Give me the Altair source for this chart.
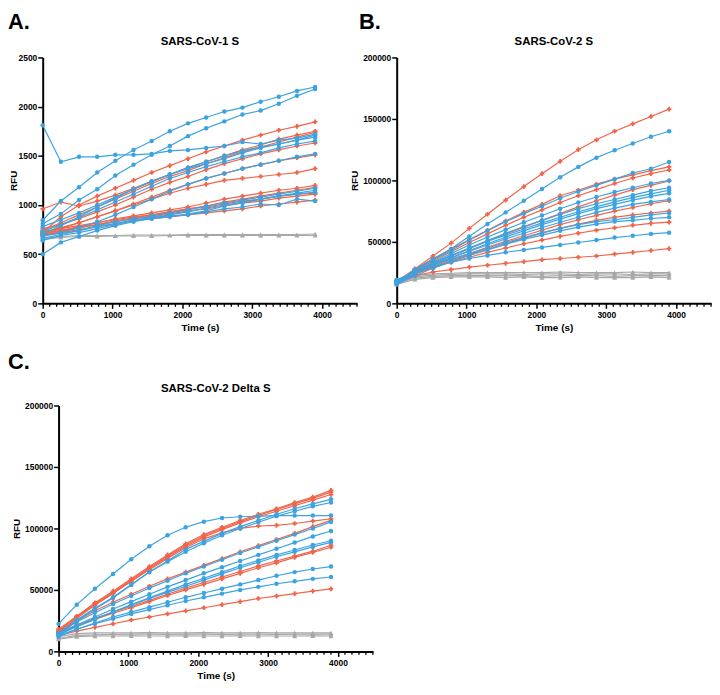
import altair as alt
import pandas as pd

# ---------------- data ----------------
T = [0, 260, 520, 780, 1040, 1300, 1560, 1820, 2080, 2340, 2600, 2860, 3120, 3380, 3640, 3900]

# Panel A: SARS-CoV-1 S
A_blue = [
    [845, 1040, 1180, 1330, 1450, 1560, 1650, 1750, 1830, 1890, 1950, 1990, 2050, 2100, 2160, 2200],
    [810, 910, 1050, 1160, 1300, 1410, 1510, 1600, 1700, 1780, 1850, 1920, 1960, 2030, 2110, 2180],
    [1810, 1440, 1490, 1490, 1510, 1510, 1520, 1550, 1560, 1580, 1600, 1640, 1620, 1660, 1680, 1720],
    [700, 790, 880, 980, 1070, 1160, 1240, 1310, 1370, 1420, 1470, 1530, 1580, 1620, 1660, 1710],
    [730, 800, 870, 950, 1030, 1110, 1190, 1270, 1330, 1390, 1440, 1490, 1530, 1580, 1620, 1650],
    [680, 720, 770, 830, 900, 980, 1060, 1140, 1210, 1270, 1320, 1370, 1410, 1450, 1490, 1520],
    [660, 700, 740, 790, 830, 860, 890, 920, 950, 990, 1020, 1050, 1080, 1110, 1140, 1170],
    [640, 690, 720, 760, 800, 840, 870, 900, 930, 970, 1000, 1030, 1060, 1090, 1120, 1150],
    [690, 710, 740, 780, 810, 850, 870, 890, 900, 930, 960, 980, 1010, 1000, 1060, 1040],
    [500, 620, 680, 740, 790, 830, 860, 880, 910, 940, 990, 1020, 1060, 1090, 1110, 1130],
    [780, 850, 920, 1000, 1080, 1160, 1240, 1310, 1380, 1440, 1500, 1550, 1590, 1620, 1660, 1690],
]
A_red = [
    [720, 880, 1000, 1090, 1170, 1250, 1330, 1400, 1470, 1540, 1600, 1660, 1710, 1760, 1800, 1845],
    [960, 1030, 990, 1040, 1100, 1170, 1240, 1310, 1380, 1440, 1500, 1560, 1610, 1670, 1710, 1750],
    [740, 820, 900, 980, 1060, 1140, 1220, 1290, 1350, 1420, 1480, 1540, 1590, 1640, 1690, 1740],
    [760, 800, 860, 930, 1000, 1080, 1160, 1230, 1290, 1360, 1420, 1470, 1520, 1560, 1600, 1630],
    [700, 760, 820, 880, 940, 1010, 1080, 1150, 1210, 1270, 1320, 1370, 1410, 1450, 1480, 1510],
    [720, 770, 820, 880, 940, 1000, 1060, 1120, 1170, 1210, 1250, 1270, 1290, 1310, 1330, 1370],
    [710, 740, 780, 820, 860, 890, 920, 950, 980, 1020, 1060, 1090, 1120, 1150, 1170, 1200],
    [690, 730, 770, 800, 840, 870, 900, 930, 960, 990, 1030, 1060, 1090, 1120, 1150, 1180],
    [730, 760, 790, 820, 850, 880, 900, 930, 960, 980, 1010, 1040, 1060, 1090, 1110, 1120],
    [700, 740, 770, 800, 830, 860, 880, 910, 940, 960, 990, 1020, 1040, 1070, 1090, 1110],
    [690, 720, 750, 780, 810, 840, 860, 880, 900, 920, 940, 960, 990, 1010, 1030, 1050],
]
A_gray = [
    [660, 680, 690, 690, 690, 695, 695, 695, 700, 700, 700, 700, 700, 700, 700, 705],
    [650, 670, 680, 680, 685, 685, 685, 690, 690, 690, 690, 690, 690, 690, 690, 690],
]

# Panel B: SARS-CoV-2 S
B_blue = [
    [16500, 27500, 36000, 44500, 54500, 64500, 74000, 83500, 93000, 102500, 111000, 118500, 124500, 130000, 135500, 140000],
    [17000, 27000, 35500, 43000, 51500, 59000, 66500, 73000, 79000, 85500, 91000, 96000, 101000, 106000, 109500, 115000],
    [16500, 25500, 33500, 40500, 47500, 54000, 60000, 66000, 71500, 77000, 82000, 86500, 90500, 94000, 97500, 100000],
    [17000, 25000, 32000, 38500, 45000, 51000, 57000, 62500, 67500, 72500, 77000, 81000, 84500, 88000, 91500, 94000],
    [18000, 26000, 33000, 39000, 45000, 50500, 55500, 60500, 65500, 70000, 74500, 78500, 82500, 86000, 89000, 92000],
    [16000, 24000, 31000, 37000, 43000, 48500, 54000, 59000, 64000, 68500, 73000, 77000, 80500, 84000, 87000, 89500],
    [17500, 25000, 31500, 37000, 42500, 47500, 52500, 57000, 61500, 66000, 70000, 74000, 77500, 80500, 82500, 84500],
    [19000, 25500, 31000, 36000, 40500, 45000, 49500, 53500, 57500, 61000, 64000, 66500, 68000, 70000, 72000, 73500],
    [15500, 22500, 28500, 34000, 39000, 43500, 48000, 52000, 55500, 59000, 62000, 64500, 66500, 67500, 69000, 70000],
    [19000, 25500, 30000, 33500, 36500, 39000, 41500, 43500, 45500, 47500, 49500, 51500, 53500, 55000, 56500, 57500],
]
B_red = [
    [17400, 28000, 38500, 49000, 61000, 72500, 84000, 95000, 105500, 115500, 125000, 133000, 140000, 146000, 152000, 158000],
    [18000, 27500, 36000, 44000, 52000, 59500, 67000, 74000, 80500, 87500, 92000, 97000, 101000, 104500, 108000, 111000],
    [17500, 26500, 34500, 42000, 49500, 56500, 63500, 70000, 76000, 82000, 87500, 92500, 97500, 102000, 105500, 108500],
    [18500, 26000, 32500, 38500, 44500, 50500, 56500, 62000, 67500, 73000, 78500, 83500, 88000, 92500, 96000, 99500],
    [18000, 24500, 30000, 35500, 40500, 45500, 50500, 55000, 59500, 64000, 68000, 71500, 75000, 78000, 81000, 83500],
    [17500, 24000, 29500, 34500, 39500, 44000, 48500, 53000, 57000, 61000, 64500, 67500, 70000, 72000, 73500, 75000],
    [18500, 24000, 29000, 33500, 37500, 41500, 45000, 48500, 51500, 54500, 57000, 59500, 61500, 63500, 65000, 66000],
    [17500, 22500, 25500, 27500, 29500, 31000, 32500, 34000, 35500, 36500, 37500, 38500, 40000, 41500, 43000, 44500],
]
B_gray = [
    [17000, 22500, 24000, 24500, 25000, 25000, 25000, 25000, 25000, 25500, 25000, 25000, 25000, 25500, 25000, 25000],
    [16000, 21500, 23000, 23500, 24000, 24000, 24000, 23500, 24000, 24000, 23500, 24000, 24000, 23500, 24000, 24000],
    [16500, 20500, 22000, 22500, 22500, 22500, 22500, 22500, 22000, 22500, 22500, 22500, 22000, 22500, 22500, 22500],
    [15500, 19500, 21000, 21500, 21500, 21500, 21000, 21500, 21000, 21000, 21500, 21000, 21000, 21000, 21500, 21000],
]

# Panel C: SARS-CoV-2 Delta S
C_blue = [
    [22400, 38000, 51000, 63000, 75000, 85500, 94500, 101000, 105500, 108500, 109500, 110000, 110500, 110500, 110500, 110500],
    [13500, 25000, 34500, 43500, 54000, 64500, 73500, 83000, 89500, 96000, 101500, 106500, 111500, 116000, 120000, 123700],
    [14500, 25500, 35000, 44000, 54500, 64500, 73000, 81000, 88000, 94500, 100000, 105000, 110000, 114000, 118000, 121100],
    [15000, 24000, 31500, 38500, 45000, 51500, 57500, 63500, 69000, 74500, 80000, 85000, 90000, 95000, 100000, 105300],
    [14000, 21500, 28000, 34500, 40500, 46500, 52500, 58000, 63500, 68500, 73500, 78500, 83500, 88500, 93500, 97900],
    [13500, 20000, 26000, 32000, 38000, 43500, 49000, 54500, 59500, 64500, 69500, 74000, 78500, 82500, 86500, 90000],
    [14500, 20500, 26500, 32000, 37500, 43000, 48000, 53000, 58000, 63000, 68000, 72500, 77000, 81000, 85000, 88700],
    [12000, 18000, 23000, 28000, 32000, 36000, 40000, 44000, 47500, 51000, 54500, 58000, 61500, 64500, 67000, 69000],
    [13000, 18000, 22500, 26500, 30500, 34000, 37500, 41000, 44000, 47000, 50000, 52500, 55000, 57000, 59000, 60500],
]
C_red = [
    [16000, 28500, 39500, 49000, 59000, 69000, 78500, 87500, 95000, 101000, 106500, 111500, 116000, 121000, 125500, 131000],
    [17000, 28000, 38500, 48000, 58000, 68000, 77500, 86500, 94000, 100000, 105500, 110500, 115500, 120000, 124500, 129500],
    [15000, 27000, 37500, 47000, 57000, 67000, 76500, 85500, 93000, 99000, 104500, 109500, 114000, 118500, 123000, 127600],
    [18000, 28500, 38500, 47500, 57000, 66500, 75500, 84500, 91500, 96500, 100000, 102000, 102500, 104000, 106000, 107900],
    [16000, 25000, 33000, 40000, 46500, 53000, 59000, 64500, 70000, 75500, 81000, 86000, 91000, 96000, 101500, 106600],
    [15500, 21500, 27000, 32000, 36500, 41500, 46500, 51500, 56000, 60500, 65000, 69500, 73500, 77500, 81500, 86300],
    [14500, 20500, 26000, 31000, 35500, 40500, 45500, 50000, 54500, 59000, 63500, 68000, 72000, 76500, 80500, 84700],
    [13200, 16500, 19500, 22500, 25500, 28000, 30500, 33000, 35500, 38000, 40500, 43000, 45000, 47000, 49000, 50800],
]
C_gray = [
    [12000, 14500, 15000, 15000, 15000, 15200, 15000, 15000, 15200, 15000, 15000, 15200, 15000, 15000, 15000, 15000],
    [10500, 13000, 13500, 13800, 14000, 14000, 13800, 14000, 14000, 13800, 14000, 14000, 13800, 14000, 14000, 14000],
    [10000, 12000, 12500, 12500, 12700, 12500, 12500, 12700, 12500, 12500, 12700, 12500, 12500, 12500, 12700, 12500],
]

X_TICKS = [0, 1000, 2000, 3000, 4000]
X_MINOR = [t for t in range(100, 4501, 100) if t % 1000 != 0]
A_YTICKS = [0, 500, 1000, 1500, 2000, 2500]
BC_YTICKS = [0, 50000, 100000, 150000, 200000]

# ---------------- style ----------------
FONT = "Liberation Sans"
BLUE, RED, GRAY = "#3BA3E1", "#F0654A", "#A8A8A8"
W, H = 317, 248
OFF_C = 16


def build_df(blue, red, gray):
    rows = []
    for grp, series in (("gray", gray), ("red", red), ("blue", blue)):
        for k, vals in enumerate(series):
            for t, v in zip(T, vals):
                rows.append({"t": t, "v": v, "grp": grp, "sid": f"{grp}{k}"})
    return pd.DataFrame(rows)


AX = dict(grid=False, domainColor="black", domainWidth=2, tickColor="black", tickWidth=1.5,
          tickSize=5, labelFont=FONT, labelFontSize=8.5, labelFontWeight="bold", labelColor="black",
          titleFont=FONT, titleFontSize=10, titleFontWeight="bold", titleColor="black")


def panel(df, ymax, yticks, title, letter, ytp, xoff, lx, ly, ty):
    if xoff:
        xs = alt.Scale(domain=[0, 4500], nice=False, zero=False, rangeMin=xoff)
    else:
        xs = alt.Scale(domain=[0, 4500], nice=False, zero=False)
    x = alt.X("t:Q", scale=xs,
              axis=alt.Axis(values=X_TICKS, format="d", title="Time (s)", labelFlush=False,
                            labelPadding=2, titlePadding=4, **AX))
    yax = dict(values=yticks, format="d", title="RFU", labelPadding=1, titlePadding=ytp,
               labelFlush=False, **AX)
    if xoff:
        yax["offset"] = -xoff
    y = alt.Y("v:Q", scale=alt.Scale(domain=[0, ymax], nice=False), axis=alt.Axis(**yax))
    dom = ["blue", "red", "gray"]
    color = alt.Color("grp:N", scale=alt.Scale(domain=dom, range=[BLUE, RED, GRAY]), legend=None)
    shape = alt.Shape("grp:N", scale=alt.Scale(domain=dom, range=["circle", "cross", "triangle-up"]), legend=None)
    size = alt.Size("grp:N", scale=alt.Scale(domain=dom, range=[20, 24, 16]), legend=None)

    base = alt.Chart(df)
    lines = base.mark_line(strokeWidth=1.2).encode(x=x, y=y, color=color, detail="sid:N")
    pts = base.mark_point(filled=True, opacity=1, strokeWidth=0).encode(
        x=x, y=y, color=color, shape=shape, size=size, detail="sid:N")
    minor = alt.Chart(pd.DataFrame({"t": X_MINOR})).mark_rule(color="black", strokeWidth=1.3).encode(
        x=x, y=alt.value(H), y2=alt.value(H + 3.5))
    ttl = alt.Chart(pd.DataFrame({"s": [title]})).mark_text(
        font=FONT, fontSize=11.5, fontWeight="bold", color="black", align="center", baseline="middle"
    ).encode(x=alt.value(xoff + W / 2), y=alt.value(ty), text="s:N")
    let = alt.Chart(pd.DataFrame({"s": [letter]})).mark_text(
        font=FONT, fontSize=22, fontWeight="bold", color="black", align="left", baseline="alphabetic"
    ).encode(x=alt.value(lx), y=alt.value(ly), text="s:N")
    return alt.layer(lines, pts, minor, ttl, let).properties(width=W + xoff, height=H)


pA = panel(build_df(A_blue, A_red, A_gray), 2500, A_YTICKS, "SARS-CoV-1 S", "A.", 0, 0, -35, -29, -16)
pB = panel(build_df(B_blue, B_red, B_gray), 200000, BC_YTICKS, "SARS-CoV-2 S", "B.", 3.5, 0, -38, -29, -16)
pC = panel(build_df(C_blue, C_red, C_gray), 200000, BC_YTICKS, "SARS-CoV-2 Delta S", "C.", 3.5, OFF_C,
           -35, -37, -17)

chart = alt.concat(pA, pB, pC, columns=2, spacing={"row": 103, "column": 24}, bounds="flush").properties(
    padding=0, background="white"
).configure_view(stroke=None)

chart.save("out.html", embed_options={"renderer": "svg", "actions": False})
